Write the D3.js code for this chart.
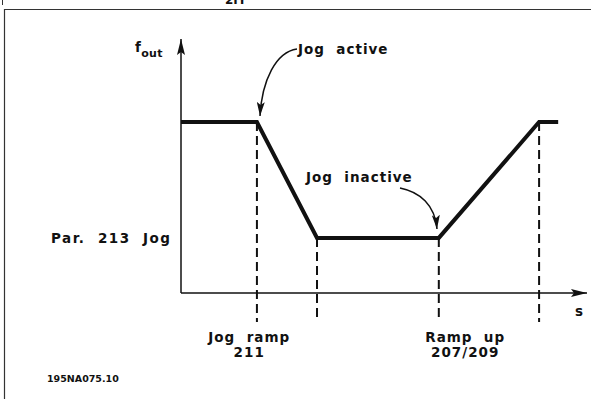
<!DOCTYPE html>
<html>
<head>
<meta charset="utf-8">
<script src="https://cdn.jsdelivr.net/npm/d3@7"></script>
<style>
  body { margin: 0; background: #fff; }
  svg text { font-family: "DejaVu Sans", sans-serif; fill: #111; white-space: pre; }
  .lbl { font-size: 13.5px; font-weight: bold; letter-spacing: 1px; }
</style>
</head>
<body>
<div id="chart"></div>
<script>
// profile of the output frequency (time in arbitrary units, f as fraction of axis)
var times = [0, 1.87, 3.35, 6.35, 8.82, 9.29];
var freqs = [0.673, 0.673, 0.217, 0.217, 0.673, 0.673];
// dashed marker positions (index into profile)
var markerIdx = [1, 2, 3, 4];
var bottomLabels = [
  { t: 1.68, lines: ['Jog  ramp', '211'] },
  { t: 7.0, lines: ['Ramp  up', '207/209'] }
];

var svgWidth = 591,
  svgHeight = 399,
  origin = { x: 181, y: 293 };

var x = d3.scaleLinear().domain([0, 10]).range([origin.x, 587]);
var y = d3.scaleLinear().domain([0, 1]).range([origin.y, 39]);

var svg = d3.select('#chart')
  .append('svg')
  .attr('width', svgWidth)
  .attr('height', svgHeight);

var defs = svg.append('defs');
defs.append('marker')
  .attr('id', 'axisHead')
  .attr('viewBox', '0 0 16 8')
  .attr('refX', 16).attr('refY', 4)
  .attr('markerWidth', 16).attr('markerHeight', 8)
  .attr('markerUnits', 'userSpaceOnUse')
  .attr('orient', 'auto')
  .append('path')
  .attr('d', 'M0,0 L16,4 L0,8 L3,4 Z')
  .attr('fill', '#111');
defs.append('marker')
  .attr('id', 'noteHead')
  .attr('viewBox', '0 0 14 8')
  .attr('refX', 14).attr('refY', 4)
  .attr('markerWidth', 14).attr('markerHeight', 8)
  .attr('markerUnits', 'userSpaceOnUse')
  .attr('orient', 'auto')
  .append('path')
  .attr('d', 'M0,0 L14,4 L0,8 L3,4 Z')
  .attr('fill', '#111');

// page frame (only the top and left edges are inside the picture)
svg.append('path')
  .attr('d', 'M4.5,399 L4.5,9.5 L591,9.5')
  .attr('fill', 'none')
  .attr('stroke', '#333')
  .attr('stroke-width', 1.2);
// clipped caption from the page above
svg.append('text')
  .attr('x', 225).attr('y', 4)
  .attr('font-size', 12).attr('font-weight', 'bold')
  .text('2IY');
svg.append('line')
  .attr('x1', 2.5).attr('x2', 2.5).attr('y1', 0).attr('y2', 5)
  .attr('stroke', '#333');

// dashed markers
var pts = times.map(function(t, i) { return { t: t, f: freqs[i] }; });
svg.selectAll('.marker')
  .data(markerIdx.map(function(i) { return pts[i]; }))
  .enter().append('line')
  .attr('class', 'marker')
  .attr('x1', function(d) { return x(d.t); })
  .attr('x2', function(d) { return x(d.t); })
  .attr('y1', function(d) { return y(d.f); })
  .attr('y2', 322)
  .attr('stroke', '#111')
  .attr('stroke-width', 2)
  .attr('stroke-dasharray', '9,5');

// axes
svg.append('line')
  .attr('x1', x(0)).attr('y1', y(0))
  .attr('x2', x(10)).attr('y2', y(0))
  .attr('stroke', '#111').attr('stroke-width', 1.5)
  .attr('marker-end', 'url(#axisHead)');
svg.append('line')
  .attr('x1', x(0)).attr('y1', y(0))
  .attr('x2', x(0)).attr('y2', y(1))
  .attr('stroke', '#111').attr('stroke-width', 1.5)
  .attr('marker-end', 'url(#axisHead)');

// profile
var line = d3.line()
  .x(function(d) { return x(d.t); })
  .y(function(d) { return y(d.f); });
svg.append('path')
  .datum(pts)
  .attr('d', line)
  .attr('fill', 'none')
  .attr('stroke', '#111')
  .attr('stroke-width', 4)
  .attr('stroke-linejoin', 'miter');

// axis labels
var fl = svg.append('text').attr('x', 135).attr('y', 52).attr('class', 'lbl').style('letter-spacing', '0.3px');
fl.append('tspan').text('f');
fl.append('tspan').attr('dy', 5).attr('font-size', 11).text('out');
svg.append('text').attr('x', 575).attr('y', 316).attr('class', 'lbl').text('s');
svg.append('text').attr('x', 51).attr('y', 243).attr('class', 'lbl')
  .style('letter-spacing', '1.5px').text('Par.  213  Jog');

// annotations
svg.append('text').attr('x', 298).attr('y', 54).attr('class', 'lbl').text('Jog  active');
svg.append('path')
  .attr('d', 'M297,49 C276,52 262,80 260,116')
  .attr('fill', 'none').attr('stroke', '#111').attr('stroke-width', 1.5)
  .attr('marker-end', 'url(#noteHead)');
svg.append('text').attr('x', 306).attr('y', 182).attr('class', 'lbl').text('Jog  inactive');
svg.append('path')
  .attr('d', 'M400,188 C420,192 435,205 437,229')
  .attr('fill', 'none').attr('stroke', '#111').attr('stroke-width', 1.5)
  .attr('marker-end', 'url(#noteHead)');

// bottom labels
bottomLabels.forEach(function(b) {
  var t = svg.append('text')
    .attr('class', 'lbl')
    .attr('text-anchor', 'middle');
  b.lines.forEach(function(s, i) {
    t.append('tspan')
      .attr('x', x(b.t))
      .attr('y', 342 + i * 15)
      .text(s);
  });
});

svg.append('text')
  .attr('x', 47).attr('y', 382)
  .attr('font-size', 9.5).attr('font-weight', 'bold')
  .text('195NA075.10');
</script>
</body>
</html>
